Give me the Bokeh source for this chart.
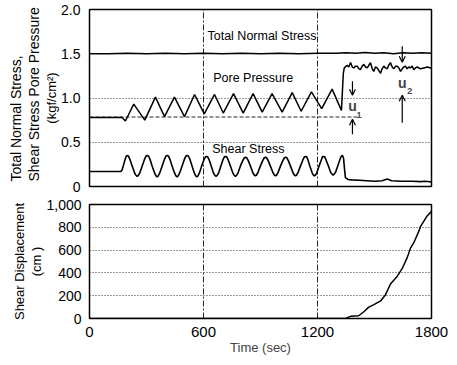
from bokeh.plotting import figure
from bokeh.layouts import column
from bokeh.models import Range1d, FixedTicker, Label, Arrow, OpenHead, Title
from bokeh.embed import file_html
from bokeh.resources import INLINE

FONT = "Liberation Sans"

# ---------------- data ----------------
x_ticks = [0, 600, 1200, 1800]
x_labels = ["0", "600", "1200", "1800"]
top_y_ticks = [0, 0.5, 1.0, 1.5, 2.0]
top_y_labels = ["0", "0.5", "1.0", "1.5", "2.0"]
bot_y_ticks = [0, 200, 400, 600, 800, 1000]
bot_y_labels = ["0", "200", "400", "600", "800", "1,000"]

# total normal stress (kgf/cm2)
ns_t = [0, 100, 200, 300, 400, 500, 600, 700, 800, 900, 1000, 1100, 1200, 1300,
        1350, 1400, 1450, 1500, 1550, 1600, 1650, 1700, 1750, 1800]
ns_v = [1.50, 1.50, 1.505, 1.50, 1.505, 1.50, 1.505, 1.50, 1.505, 1.50, 1.505, 1.50, 1.505, 1.505,
        1.51, 1.505, 1.515, 1.505, 1.51, 1.50, 1.51, 1.505, 1.51, 1.505]

# pore pressure (kgf/cm2)
pp_t = [0, 172, 189, 233, 291, 347, 395, 447, 500, 553, 604, 658, 704, 758, 809, 861, 909,
        961, 1014, 1067, 1114, 1168, 1222, 1277, 1326, 1336,
        1341, 1356, 1365, 1374, 1383, 1391, 1400, 1409, 1418, 1426, 1435, 1444, 1453, 1462,
        1470, 1479, 1488, 1496, 1505, 1514, 1523, 1532, 1540, 1549, 1558, 1567, 1575, 1584,
        1593, 1602, 1611, 1620, 1628, 1637, 1646, 1654, 1663, 1672, 1680, 1689, 1698, 1707,
        1716, 1725, 1742, 1760, 1778, 1795, 1800]
pp_v = [0.78, 0.78, 0.74, 0.93, 0.75, 1.01, 0.79, 1.01, 0.79, 1.04, 0.82, 1.04, 0.83, 1.05, 0.83, 1.05, 0.84,
        1.05, 0.84, 1.06, 0.85, 1.07, 0.88, 1.10, 0.86, 1.28,
        1.34, 1.37, 1.35, 1.40, 1.35, 1.34, 1.36, 1.36, 1.33, 1.32, 1.36, 1.38, 1.35, 1.34,
        1.37, 1.40, 1.33, 1.30, 1.35, 1.34, 1.31, 1.28, 1.33, 1.36, 1.34, 1.33, 1.37, 1.40,
        1.35, 1.33, 1.36, 1.36, 1.34, 1.30, 1.33, 1.35, 1.36, 1.33, 1.35, 1.34, 1.36, 1.32,
        1.34, 1.35, 1.33, 1.34, 1.35, 1.34, 1.34]

# shear stress (kgf/cm2)
ss_t = [0, 165, 172, 180, 188, 193, 198,
        204, 212, 225, 238, 245, 251, 257, 264, 277, 290, 298, 304,
        310, 318, 330, 343, 350, 356, 362, 369, 382, 395, 403, 409,
        415, 423, 435, 448, 455, 461, 467, 474, 487, 500, 508, 514,
        520, 528, 540, 552, 559, 565, 571, 578, 590, 602, 610, 616,
        622, 630, 641, 653, 660, 666, 672, 679, 691, 702, 710, 716,
        722, 730, 742, 755, 762, 768, 774, 781, 794, 807, 815, 821,
        827, 835, 847, 860, 867, 873, 879, 886, 899, 912, 920, 926,
        932, 940, 952, 966, 973, 979, 985, 992, 1005, 1018, 1026, 1032,
        1038, 1046, 1058, 1071, 1078, 1084, 1090, 1097, 1110, 1123, 1131, 1137,
        1143, 1150, 1160, 1172, 1178, 1184, 1190, 1196, 1208, 1220, 1226, 1232,
        1238, 1245, 1257, 1269, 1276, 1282, 1288, 1295, 1307, 1319, 1326, 1332,
        1337, 1343, 1347, 1360, 1380, 1420, 1460, 1500, 1540, 1567, 1590, 1640, 1700, 1740, 1770, 1800]
ss_v = [0.17, 0.17, 0.19, 0.25, 0.31, 0.34, 0.35,
        0.345, 0.31, 0.23, 0.15, 0.125, 0.115, 0.125, 0.15, 0.23, 0.31, 0.345, 0.35,
        0.345, 0.31, 0.23, 0.15, 0.12, 0.11, 0.12, 0.15, 0.23, 0.31, 0.345, 0.35,
        0.345, 0.31, 0.23, 0.15, 0.12, 0.11, 0.12, 0.15, 0.23, 0.31, 0.345, 0.35,
        0.345, 0.31, 0.23, 0.15, 0.12, 0.11, 0.12, 0.15, 0.23, 0.30, 0.335, 0.34,
        0.335, 0.30, 0.23, 0.15, 0.125, 0.115, 0.125, 0.15, 0.23, 0.30, 0.335, 0.34,
        0.335, 0.30, 0.23, 0.15, 0.125, 0.115, 0.125, 0.15, 0.23, 0.295, 0.325, 0.33,
        0.325, 0.295, 0.23, 0.155, 0.13, 0.12, 0.13, 0.155, 0.23, 0.295, 0.325, 0.33,
        0.325, 0.295, 0.23, 0.155, 0.13, 0.12, 0.13, 0.155, 0.23, 0.295, 0.325, 0.33,
        0.325, 0.295, 0.23, 0.155, 0.13, 0.12, 0.13, 0.155, 0.23, 0.30, 0.335, 0.34,
        0.335, 0.30, 0.23, 0.155, 0.13, 0.12, 0.13, 0.155, 0.23, 0.30, 0.335, 0.34,
        0.335, 0.30, 0.235, 0.16, 0.14, 0.13, 0.14, 0.16, 0.235, 0.31, 0.345, 0.35,
        0.32, 0.18, 0.10, 0.08, 0.075, 0.07, 0.065, 0.06, 0.065, 0.085, 0.065, 0.06, 0.06, 0.055, 0.06, 0.05]

# shear displacement (cm)
disp_t = [0, 1347, 1374, 1417, 1444, 1470, 1497, 1532, 1558, 1584, 1620, 1646, 1672, 1689,
          1708, 1733, 1742, 1777, 1800]
disp_v = [0, 0, 19, 24, 59, 100, 122, 154, 209, 303, 371, 439, 534, 615,
          669, 764, 805, 900, 940]

# initial pore-pressure reference line
base_t = [0, 1420]
base_v = [0.785, 0.785]

# u1 / u2 annotation positions (time, value)
u1_t = 1384
u1_down = (1.19, 1.03)
u1_up = (0.59, 0.76)
u1_lab = (0.915, 1418, 0.81)
u2_t = 1646
u2_down = (1.585, 1.405)
u2_up = (0.72, 1.03)
u2_lab = (1.17, 1686, 1.08)

# curve names (text, time, value)
name_normal = ("Total Normal Stress", 621, 1.695)
name_pore = ("Pore Pressure", 651, 1.23)
name_shear = ("Shear  Stress", 646, 0.42)


def style(p, yticks, ylabels, xgrid_ticks, ygrid_ticks):
    p.outline_line_color = "black"
    p.outline_line_width = 1.5
    p.outline_line_alpha = 1.0
    p.background_fill_color = "white"
    p.border_fill_color = "white"
    p.yaxis.ticker = FixedTicker(ticks=yticks)
    p.yaxis.major_label_overrides = {t: l for t, l in zip(yticks, ylabels)}
    p.xaxis.ticker = FixedTicker(ticks=x_ticks)
    p.xaxis.major_label_overrides = {t: l for t, l in zip(x_ticks, x_labels)}
    for ax in (p.xaxis[0], p.yaxis[0]):
        ax.axis_line_color = None
        ax.major_tick_line_color = None
        ax.minor_tick_line_color = None
        ax.major_label_text_font = FONT
        ax.major_label_text_color = "black"
        ax.major_label_text_font_size = "14px"
        ax.major_label_standoff = 3
    p.xgrid.ticker = FixedTicker(ticks=xgrid_ticks)
    p.ygrid.ticker = FixedTicker(ticks=ygrid_ticks)
    p.xgrid.grid_line_color = "black"
    p.xgrid.grid_line_dash = "6 2 2 2"
    p.xgrid.grid_line_width = 1
    p.xgrid.grid_line_alpha = 0.85
    p.ygrid.grid_line_color = "black"
    p.ygrid.grid_line_dash = "1 2"
    p.ygrid.grid_line_width = 1
    p.ygrid.grid_line_alpha = 0.8


def side_title(text, size, align="center", offset=0):
    return Title(text=text, align=align, offset=offset, standoff=0,
                 text_font=FONT, text_font_size=size, text_font_style="normal",
                 text_color="black")


# ---------------- top panel ----------------
p1 = figure(width=449, height=193, output_backend="svg", toolbar_location=None,
            x_range=Range1d(0, 1800), y_range=Range1d(0, 2.0),
            min_border_left=89, min_border_right=18, min_border_top=9, min_border_bottom=7)
style(p1, top_y_ticks, top_y_labels, [600, 1200], [0.5, 1.0])
p1.xaxis.visible = False

p1.line(base_t, base_v, line_color="black", line_width=1, line_dash="4 2", line_alpha=0.85)
p1.line(ns_t, ns_v, line_color="black", line_width=1.5)
p1.line(pp_t, pp_v, line_color="black", line_width=1.5)
p1.line(ss_t, ss_v, line_color="black", line_width=1.6)

for txt, tx, ty in (name_normal, name_pore, name_shear):
    p1.add_layout(Label(x=tx, y=ty, text=txt, text_font=FONT, text_font_size="12.5px",
                        text_baseline="middle", text_align="left", text_color="black"))

for x0, (ya, yb) in ((u1_t, u1_down), (u1_t, u1_up), (u2_t, u2_down), (u2_t, u2_up)):
    p1.add_layout(Arrow(end=OpenHead(size=6, line_width=1.2, line_color="black"),
                        x_start=x0, y_start=ya, x_end=x0, y_end=yb,
                        line_width=1.2, line_color="black"))

for tx, (uy, sx_, sy_), sub in ((u1_t, u1_lab, "1"), (u2_t, u2_lab, "2")):
    p1.add_layout(Label(x=tx, y=uy, text="u", text_font=FONT, text_font_size="14px",
                        text_font_style="bold", text_align="center", text_baseline="middle"))
    p1.add_layout(Label(x=sx_, y=sy_, text=sub, text_font=FONT, text_font_size="9px",
                        text_font_style="bold", text_align="center", text_baseline="middle"))

# y-axis captions as left-side titles (first added sits next to the axis)
p1.add_layout(side_title("(kgf/cm²)", "13px", "center", 0), "left")
p1.add_layout(side_title("Shear Stress Pore Pressure", "14px", "left", 5), "left")
p1.add_layout(side_title("Total Normal Stress,", "14px", "left", 5), "left")

# ---------------- bottom panel ----------------
p2 = figure(width=449, height=164, output_backend="svg", toolbar_location=None,
            x_range=Range1d(0, 1800), y_range=Range1d(0, 1000),
            min_border_left=89, min_border_right=18, min_border_top=11, min_border_bottom=32)
style(p2, bot_y_ticks, bot_y_labels, [600, 1200], [200, 400, 600, 800])
p2.yaxis.major_label_standoff = 2
p2.xaxis.axis_label = "Time (sec)"
p2.xaxis.axis_label_text_font = FONT
p2.xaxis.axis_label_text_font_style = "normal"
p2.xaxis.axis_label_text_font_size = "13px"
p2.xaxis.axis_label_standoff = 0
p2.xaxis.major_label_text_font_size = "15px"
p2.xaxis.major_label_standoff = 2

p2.line(disp_t, disp_v, line_color="black", line_width=1.5)

p2.add_layout(side_title("(cm )", "13px", "center", 4), "left")
p2.add_layout(side_title("Shear Displacement", "13px", "center", 2), "left")

layout = column(p1, p2, spacing=0)
open("out.html", "w").write(file_html(layout, INLINE))
